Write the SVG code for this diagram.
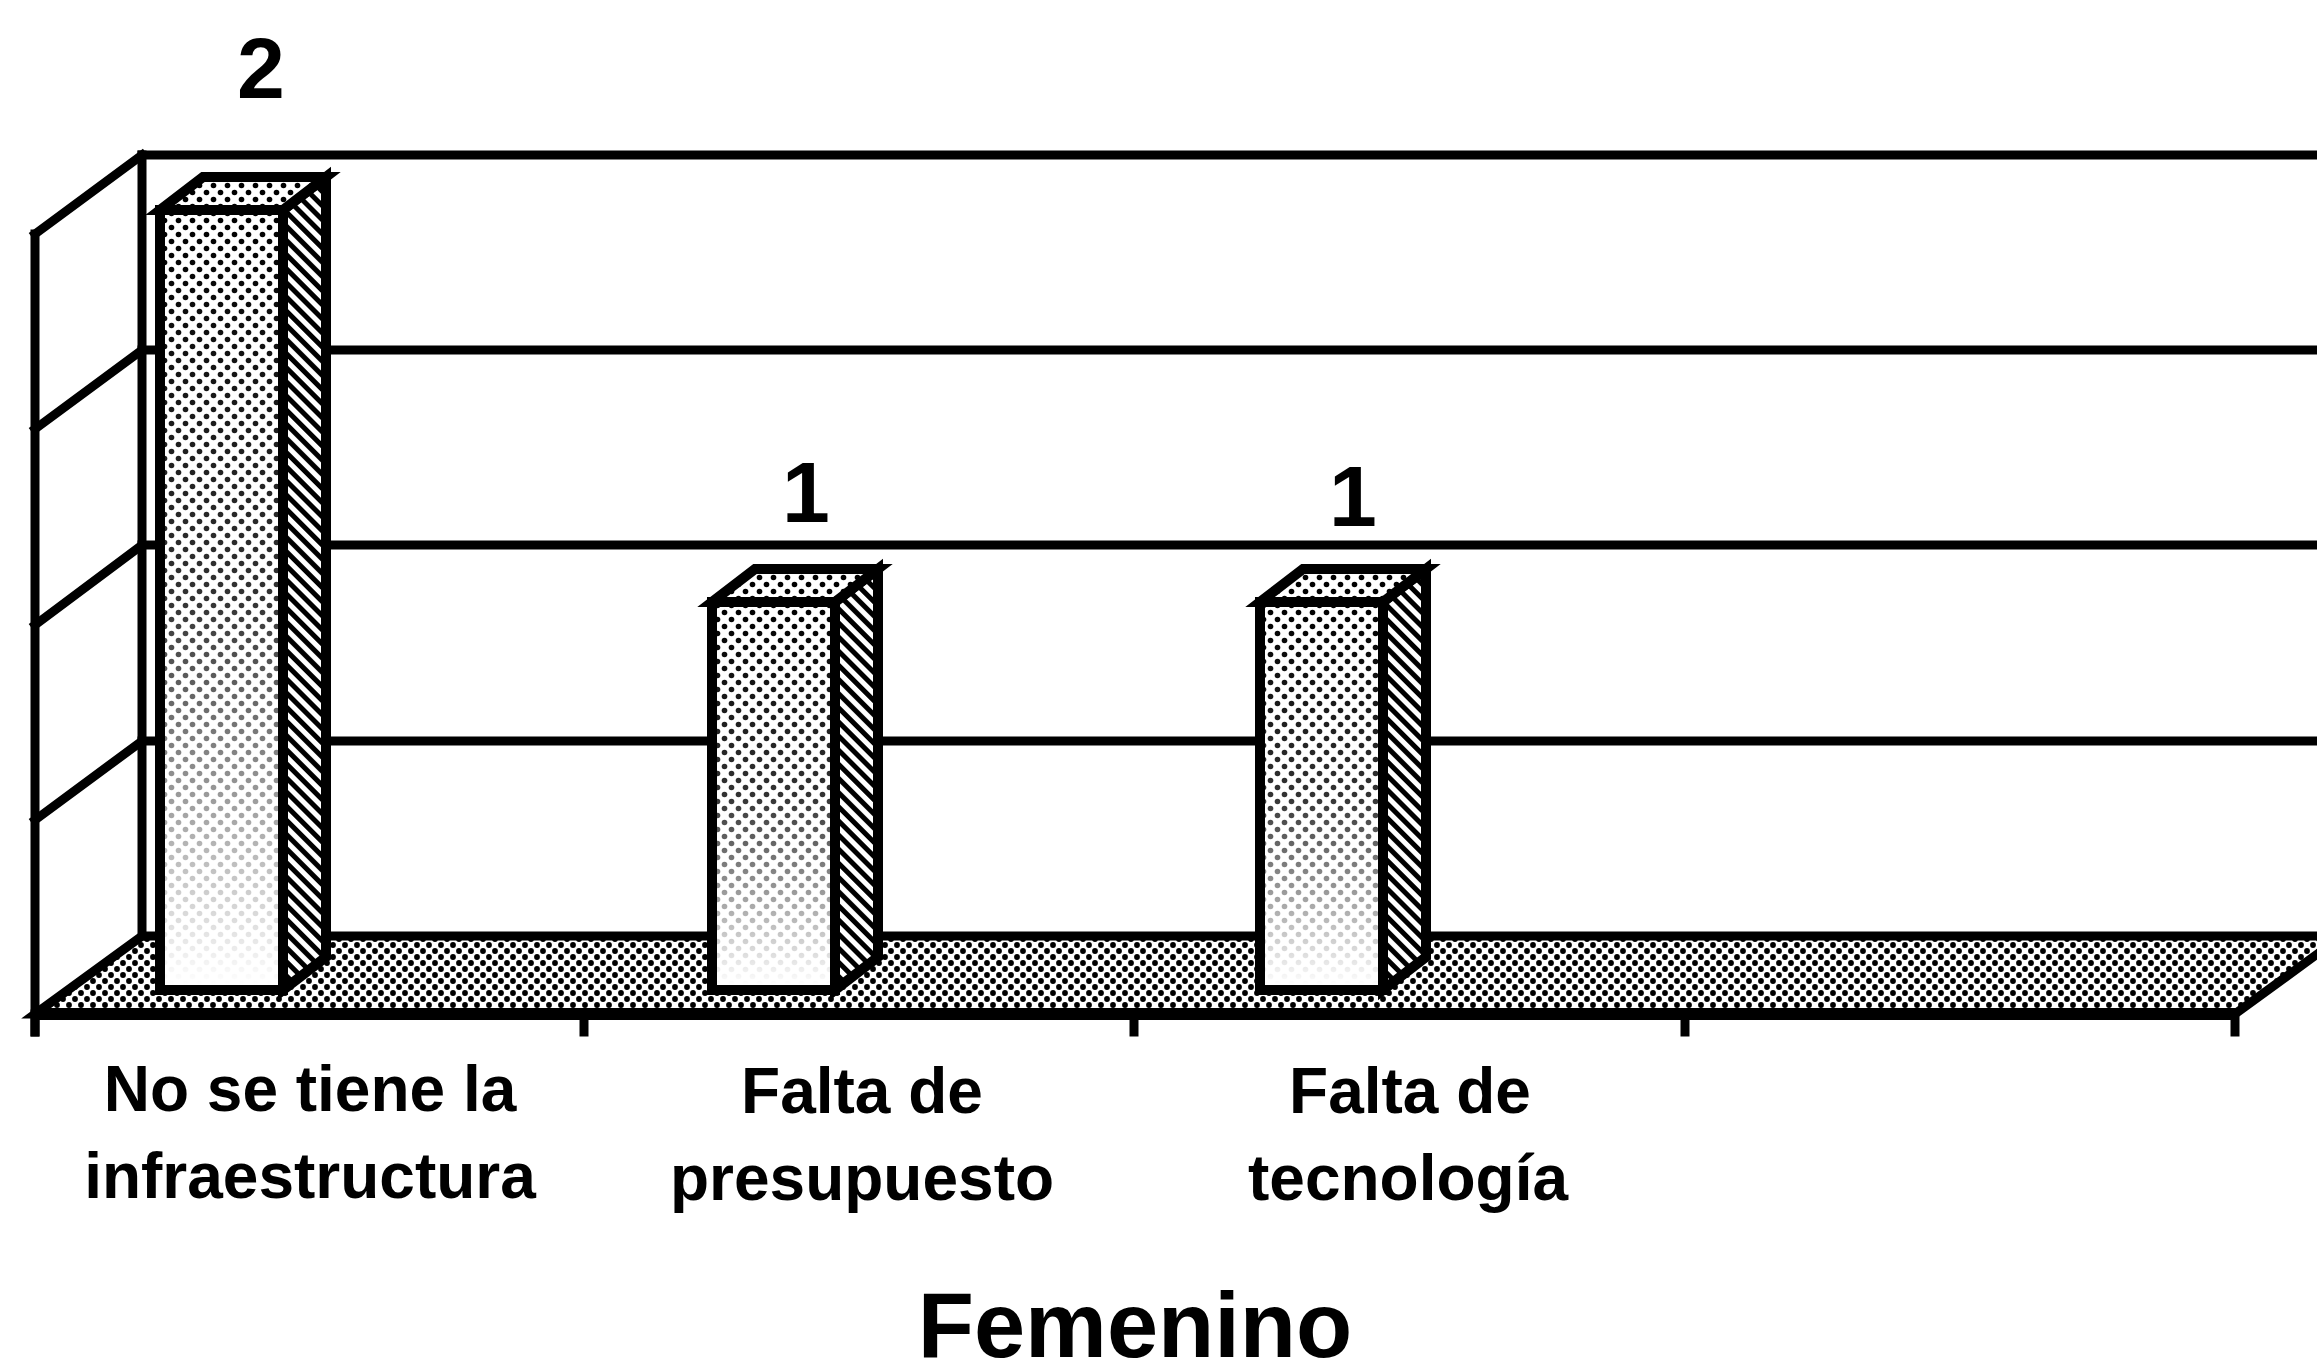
<svg xmlns="http://www.w3.org/2000/svg" width="2317" height="1372" viewBox="0 0 2317 1372">
<style>
.ln{stroke:#000;stroke-width:9;fill:none;stroke-linecap:square}
.face{stroke:#000;stroke-width:10;stroke-linejoin:miter}
.lbl{font-family:"Liberation Sans",Arial,sans-serif;font-weight:bold;font-size:64px;fill:#000;text-anchor:middle}
.val{font-family:"Liberation Sans",Arial,sans-serif;font-weight:bold;font-size:86px;fill:#000;text-anchor:middle}
.ttl{font-family:"Liberation Sans",Arial,sans-serif;font-weight:bold;font-size:92px;fill:#000;text-anchor:middle}
</style>
<defs>
<pattern id="dots" width="14" height="14" patternUnits="userSpaceOnUse">
<rect width="14" height="14" fill="#fff"/>
<circle cx="3.5" cy="3.5" r="2.8" fill="#000"/>
<circle cx="10.5" cy="10.5" r="2.8" fill="#000"/>
</pattern>
<pattern id="floorp" width="12" height="12" patternUnits="userSpaceOnUse">
<rect width="12" height="12" fill="#fff"/>
<circle cx="3" cy="3" r="2.9" fill="#000"/>
<circle cx="9" cy="9" r="2.9" fill="#000"/>
</pattern>
<pattern id="hatch" width="10" height="10" patternUnits="userSpaceOnUse" patternTransform="rotate(-45)">
<rect width="10" height="10" fill="#fff"/>
<rect width="5" height="10" fill="#000"/>
</pattern>
<linearGradient id="fade" x1="0" y1="0" x2="0" y2="1">
<stop offset="0" stop-color="#fff" stop-opacity="0"/>
<stop offset="0.5" stop-color="#fff" stop-opacity="0.2"/>
<stop offset="1" stop-color="#fff" stop-opacity="1"/>
</linearGradient>
</defs>
<rect width="2317" height="1372" fill="#fff"/>

<g id="floor">
<polygon points="35,1014 142,936 2342,936 2235,1014" fill="url(#floorp)" stroke="#000" stroke-width="9"/>
<line x1="35" y1="1014" x2="2235" y2="1014" stroke="#000" stroke-width="12"/>
</g>

<g id="walls">
<line class="ln" x1="35" y1="234" x2="35" y2="1032"/>
<line class="ln" x1="142" y1="155" x2="142" y2="936"/>
<line class="ln" x1="35" y1="234" x2="142" y2="155"/>
<line class="ln" x1="35" y1="429" x2="142" y2="350"/>
<line class="ln" x1="35" y1="625" x2="142" y2="545"/>
<line class="ln" x1="35" y1="820" x2="142" y2="741"/>
<line class="ln" x1="142" y1="155" x2="2317" y2="155"/>
<line class="ln" x1="142" y1="350" x2="2317" y2="350"/>
<line class="ln" x1="142" y1="545" x2="2317" y2="545"/>
<line class="ln" x1="142" y1="741" x2="2317" y2="741"/>
</g>

<g id="ticks">
<line class="ln" x1="35" y1="1014" x2="35" y2="1032"/>
<line class="ln" x1="584" y1="1014" x2="584" y2="1032"/>
<line class="ln" x1="1134" y1="1014" x2="1134" y2="1032"/>
<line class="ln" x1="1685" y1="1014" x2="1685" y2="1032"/>
<line class="ln" x1="2235" y1="1014" x2="2235" y2="1032"/>
</g>

<g id="bar1">
<polygon class="face" points="283,210 326,177 326,957 283,990" fill="url(#hatch)"/>
<polygon class="face" points="160,210 203,177 326,177 283,210" fill="url(#dots)"/>
<rect class="face" x="160" y="210" width="123" height="780" fill="url(#dots)"/>
<rect x="165" y="215" width="113" height="770" fill="url(#fade)"/>
</g>

<g id="bar2">
<polygon class="face" points="835,602 878,569 878,957 835,990" fill="url(#hatch)"/>
<polygon class="face" points="712,602 755,569 878,569 835,602" fill="url(#dots)"/>
<rect class="face" x="712" y="602" width="123" height="388" fill="url(#dots)"/>
<rect x="717" y="607" width="113" height="378" fill="url(#fade)"/>
</g>

<g id="bar3">
<polygon class="face" points="1383,602 1426,569 1426,957 1383,990" fill="url(#hatch)"/>
<polygon class="face" points="1260,602 1303,569 1426,569 1383,602" fill="url(#dots)"/>
<rect class="face" x="1260" y="602" width="123" height="388" fill="url(#dots)"/>
<rect x="1265" y="607" width="113" height="378" fill="url(#fade)"/>
</g>

<g id="values">
<text class="val" x="261" y="98">2</text>
<text class="val" x="806" y="522">1</text>
<text class="val" x="1353" y="526">1</text>
</g>

<g id="labels">
<text class="lbl" x="310" y="1111">No se tiene la</text>
<text class="lbl" x="310" y="1198">infraestructura</text>
<text class="lbl" x="862" y="1113">Falta de</text>
<text class="lbl" x="862" y="1200">presupuesto</text>
<text class="lbl" x="1410" y="1113">Falta de</text>
<text class="lbl" x="1408" y="1200">tecnología</text>
</g>

<g id="title">
<text class="ttl" x="1135" y="1357">Femenino</text>
</g>
</svg>
